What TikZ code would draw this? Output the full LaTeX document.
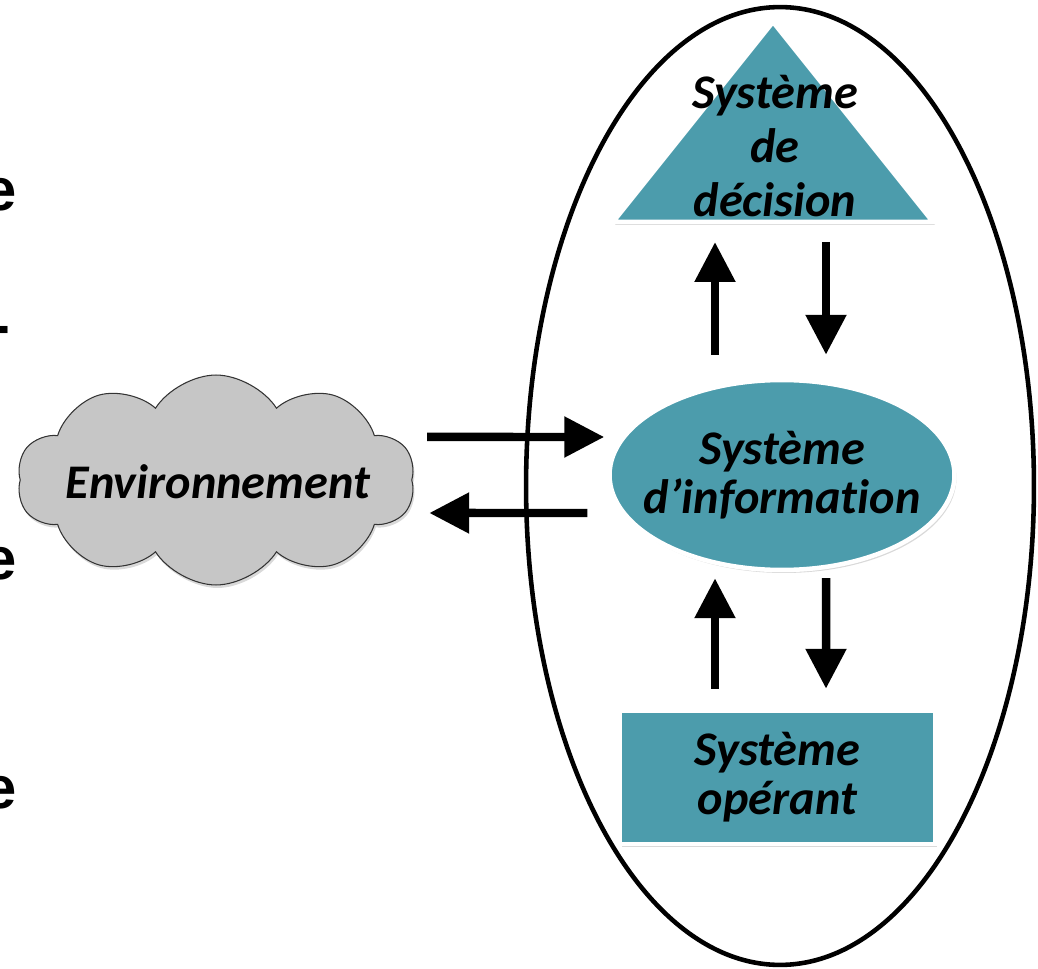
\documentclass[tikz,border=0pt]{standalone}
\usepackage{fontspec}
\newfontfamily\calib[Ligatures=NoCommon]{Carlito}
\newfontfamily\arialb{Liberation Sans}
\usetikzlibrary{shapes.geometric,shapes.symbols,arrows.meta,shadows,calc}
\definecolor{systeal}{RGB}{76,156,172}
\definecolor{cloudgray}{RGB}{198,198,198}
\begin{document}
\begin{tikzpicture}[x=0.02cm, y=-0.02cm,
		syspart/.style={fill=systeal, draw=white, line width=0.09cm,
				drop shadow={shadow xshift=0.04cm, shadow yshift=-0.06cm, opacity=0.3}},
		syslabel/.style={font=\calib\bfseries\itshape\fontsize{27.5}{#1}\selectfont, align=center, inner sep=0pt},
		syslabel/.default=28,
		flow/.style={line width=0.17cm, -{Triangle[length=0.8cm,width=0.78cm]}}
	]
	\useasboundingbox (0,0) rectangle (1038,969);
	% letters cut by the left border
	\foreach \xx/\yy/\ch [count=\i] in {17/211/e, 11/346/-, 17/579/e, 17/808/e}
		\node[font=\arialb\bfseries\fontsize{34}{40}\selectfont, anchor=base east, inner sep=0pt] (stray\i) at (\xx,\yy) {\ch};

	% the whole system
	\node[draw, ellipse, line width=2.6pt, minimum width=10.16cm, minimum height=19.16cm] (sys) at (780,486) {};

	% decision
	\path[syspart] (773,22) -- (933,222) -- (613,222) -- cycle;
	\coordinate (decbase) at (773,222);
	\node[syslabel=31] (dec) at (775,146) {Système\\de\\décision};

	% information
	\node[syspart, ellipse, minimum width=6.9cm, minimum height=3.8cm] (info) at (782,475) {};
	\node[syslabel] (infotext) at (info) {Système\\d’information};

	% operant
	\node[syspart, minimum width=6.3cm, minimum height=2.66cm] (op) at (777.5,777.5) {};
	\node[syslabel] (optext) at (op) {Système\\opérant};

	% environment
	\node[cloud, cloud puffs=10, cloud puff arc=115, cloud ignores aspect, draw=black!80, fill=cloudgray, line width=0.6pt,
		minimum width=7.96cm, minimum height=4.2cm,
		drop shadow={shadow xshift=0.03cm, shadow yshift=-0.06cm, opacity=0.3}] (env) at (216,480) {};
	\node[syslabel] (envtext) at (218,482) {Environnement};

	% flows
	\draw[flow] ($(info.north)+(-67,-23)$) -- ($(decbase)+(-58,20)$);
	\draw[flow] ($(decbase)+(53,20)$) -- ($(info.north)+(44,-23)$);
	\draw[flow] ($(op.north)+(-62.5,-20)$) -- ($(info.south)+(-67,6)$);
	\draw[flow] ($(info.south)+(44,6)$) -- ($(op.north)+(48.5,-20)$);
	\draw[flow] ($(env.east)+(15,-43)$) -- ($(info.west)+(-3,-38)$);
	\draw[flow] ($(info.west)+(-20,38)$) -- ($(env.east)+(17,33)$);
\end{tikzpicture}
\end{document}
